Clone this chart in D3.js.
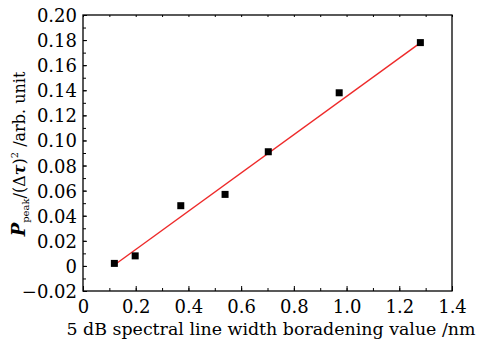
<!DOCTYPE html>
<html>
<head>
<meta charset="utf-8">
<script src="https://cdn.jsdelivr.net/npm/d3@7"></script>
<style>
  body { margin: 0; background: #fff; }
  svg text { font-family: "DejaVu Serif", "Liberation Serif", serif; }
</style>
</head>
<body>
<svg width="481" height="341"></svg>
<script>
// measured points
const xVals = [0.119, 0.198, 0.371, 0.539, 0.703, 0.972, 1.280];
const yVals = [0.002, 0.008, 0.048, 0.057, 0.091, 0.138, 0.178];
// linear fit endpoints (red line)
const fitX = [0.119, 1.281];
const fitY = [0.0007, 0.178];

const xTicks = [0, 0.2, 0.4, 0.6, 0.8, 1.0, 1.2, 1.4];
const yTicks = [-0.02, 0, 0.02, 0.04, 0.06, 0.08, 0.10, 0.12, 0.14, 0.16, 0.18, 0.20];

const FONT = '"DejaVu Serif", "Liberation Serif", serif';

const margin = { top: 15, right: 29, bottom: 50, left: 83 },
      width = 481 - margin.left - margin.right,
      height = 341 - margin.top - margin.bottom;

const svg = d3.select("svg")
    .append("g")
    .attr("transform", `translate(${margin.left},${margin.top})`);

const x = d3.scaleLinear().domain([0, 1.4]).range([0, width]);
const y = d3.scaleLinear().domain([-0.02, 0.20]).range([height, 0]);

// minor ticks
const xMinor = d3.range(0, 1.41, 0.1).map(d => +d.toFixed(2));
const yMinor = d3.range(-0.02, 0.201, 0.01).map(d => +d.toFixed(3));

svg.append("g")
    .attr("transform", `translate(0,${height})`)
    .call(d3.axisBottom(x).tickValues(xMinor).tickSize(-3).tickFormat(""))
    .call(g => g.select(".domain").remove());

svg.append("g")
    .call(d3.axisLeft(y).tickValues(yMinor).tickSize(-3).tickFormat(""))
    .call(g => g.select(".domain").remove());

svg.append("g")
    .call(d3.axisTop(x).tickValues(xMinor).tickSize(-2).tickFormat(""))
    .call(g => g.select(".domain").remove());

// major ticks + labels
const xAxis = svg.append("g")
    .attr("transform", `translate(0,${height})`)
    .call(d3.axisBottom(x).tickValues(xTicks).tickSize(-5).tickPadding(9)
        .tickFormat(d => d === 0 ? "0" : d3.format(".1f")(d)));
xAxis.attr("font-family", FONT).select(".domain").remove();
xAxis.selectAll("text").style("font-size", "18px").attr("fill", "#000");

const yAxis = svg.append("g")
    .call(d3.axisLeft(y).tickValues(yTicks).tickSize(-4).tickPadding(6)
        .tickFormat(d => d === 0 ? "0" : (d < 0 ? "\u2212" : "") + d3.format(".2f")(Math.abs(d))));
yAxis.attr("font-family", FONT).select(".domain").remove();
yAxis.selectAll("text").style("font-size", "18px").attr("fill", "#000").attr("dy", "0.36em");

// frame
svg.append("rect")
    .attr("width", width)
    .attr("height", height)
    .attr("fill", "none")
    .attr("stroke", "#000")
    .attr("stroke-width", 1.3);

// fit line
svg.append("line")
    .attr("x1", x(fitX[0])).attr("y1", y(fitY[0]))
    .attr("x2", x(fitX[1])).attr("y2", y(fitY[1]))
    .attr("stroke", "#ee2a2a")
    .attr("stroke-width", 1.4);

// points
svg.selectAll(".pt")
    .data(xVals.map((d, i) => [d, yVals[i]]))
    .enter()
    .append("rect")
    .attr("class", "pt")
    .attr("x", d => x(d[0]) - 3.5)
    .attr("y", d => y(d[1]) - 3.5)
    .attr("width", 7)
    .attr("height", 7)
    .attr("fill", "#000");

// x title
d3.select("svg").append("text")
    .attr("x", 271)
    .attr("y", 335)
    .attr("text-anchor", "middle")
    .style("font-size", "17.4px")
    .text("5 dB spectral line width boradening value /nm");

// y title
const yt = d3.select("svg").append("text")
    .attr("transform", "translate(25,154) rotate(-90)")
    .attr("text-anchor", "middle")
    .style("font-size", "16px");
yt.append("tspan").style("font-weight", "bold").style("font-style", "italic").style("font-size", "18px").text("P");
yt.append("tspan").style("font-size", "10px").attr("dy", 4).text("peak");
yt.append("tspan").attr("dy", -4).text("/(\u0394");
yt.append("tspan").style("font-weight", "bold").style("font-style", "italic").text("\u03c4");
yt.append("tspan").text(")");
yt.append("tspan").style("font-size", "10px").attr("dy", -7).text("2");
yt.append("tspan").attr("dy", 7).text(" /arb. unit");
</script>
</body>
</html>
